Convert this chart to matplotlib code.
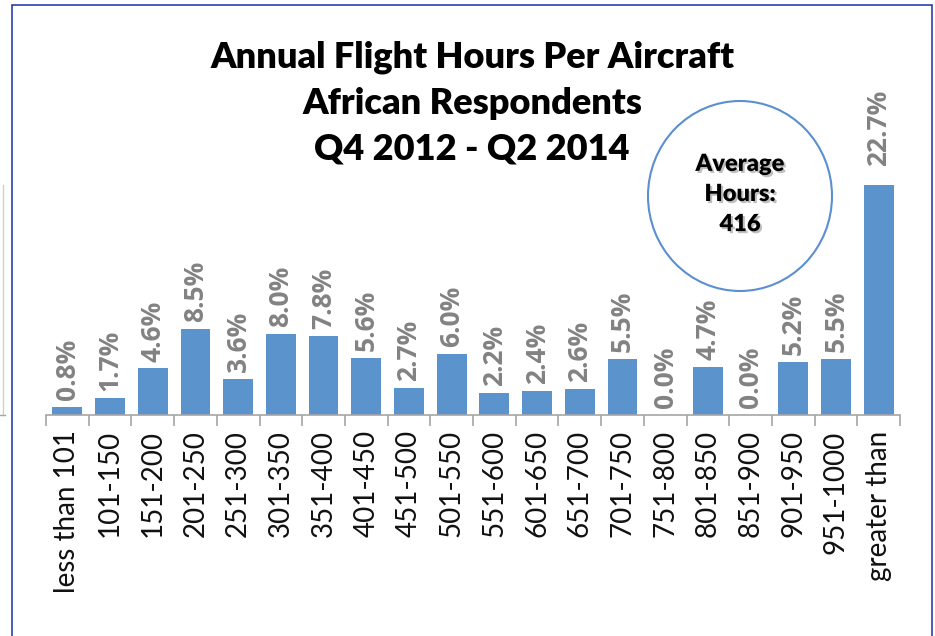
import matplotlib.pyplot as plt
from matplotlib.patches import Rectangle, Ellipse
import matplotlib.patheffects as pe

plt.rcParams['font.family'] = ['Lato', 'DejaVu Sans']

# 데이터
categories = ["less than 101", "101-150", "151-200", "201-250", "251-300",
              "301-350", "351-400", "401-450", "451-500", "501-550",
              "551-600", "601-650", "651-700", "701-750", "751-800",
              "801-850", "851-900", "901-950", "951-1000", "greater than"]
shares = [0.8, 1.7, 4.6, 8.5, 3.6, 8.0, 7.8, 5.6, 2.7, 6.0,
          2.2, 2.4, 2.6, 5.5, 0.0, 4.7, 0.0, 5.2, 5.5, 22.7]
title_lines = ["Annual Flight Hours Per Aircraft", "African Respondents", "Q4 2012 - Q2 2014"]
avg_text = "Average\nHours:\n416"

W, H = 935, 636
fig = plt.figure(figsize=(W / 100, H / 100), dpi=100)

# 축 위치 (픽셀 기준)
x0, x1 = 46, 900
y_base, y_top = 415, 160
ax = fig.add_axes([x0 / W, 1 - y_base / H, (x1 - x0) / W, (y_base - y_top) / H])

x = range(len(categories))
ax.bar(x, shares, width=0.7, color='#5b93cc', zorder=2)
ax.set_xlim(-0.5, len(categories) - 0.5)
ax.set_ylim(0, 25.2)

# 값 라벨 (마지막 막대는 라벨이 조금 더 위에 있음)
for i, v in enumerate(shares):
    off = 14 if i == len(shares) - 1 else 5
    ax.annotate(f"{v:.1f}%", (i, v), xytext=(0, off), textcoords='offset points',
                rotation=90, ha='center', va='bottom', fontsize=19,
                fontweight='bold', color='#828282',
                family=['Open Sans', 'DejaVu Sans'])

# 축 스타일
for s in ['top', 'right', 'left']:
    ax.spines[s].set_visible(False)
ax.spines['bottom'].set_color('#a6a6a6')
ax.spines['bottom'].set_linewidth(1.2)
ax.set_yticks([])
ax.set_xticks([i - 0.5 for i in range(len(categories) + 1)], minor=False)
ax.set_xticklabels([])
ax.set_xticks(list(x), minor=True)
ax.set_xticklabels(categories, minor=True, rotation=90, fontsize=20, color='#111111')
ax.tick_params(axis='x', which='major', length=8, color='#a6a6a6', width=1.2)
ax.tick_params(axis='x', which='minor', length=0, pad=11)

# 제목
for j, line in enumerate(title_lines):
    fig.text(472 / W, 1 - (57 + j * 46) / H, line, ha='center', va='center',
             fontsize=26, fontweight='heavy', color='black')

# 평균 원
fig.patches.append(Ellipse((740 / W, 1 - 196 / H), 184 / W, 190 / H,
                           transform=fig.transFigure, facecolor='white',
                           edgecolor='#5b8fcf', linewidth=1.5, zorder=5))
fig.text(740 / W, 1 - 194 / H, avg_text, ha='center', va='center', fontsize=17,
         fontweight='heavy', linespacing=1.45, zorder=6,
         path_effects=[pe.withSimplePatchShadow(offset=(1.5, -1.5), alpha=0.25)])

# 바깥 테두리
fig.patches.append(Rectangle((12 / W, -0.05), 920 / W, 1 - 5 / H + 0.05,
                             transform=fig.transFigure, fill=False,
                             edgecolor='#2a3fb0', linewidth=1.2))
# 왼쪽 잘린 차트 흔적
fig.add_artist(plt.Line2D([3 / W, 3 / W], [1 - 185 / H, 1 - 415 / H],
                          color='#d0d0d0', linewidth=1))
fig.add_artist(plt.Line2D([0, 5 / W], [1 - 415 / H, 1 - 415 / H],
                          color='#a6a6a6', linewidth=1))

plt.savefig("out.png", dpi=100)
